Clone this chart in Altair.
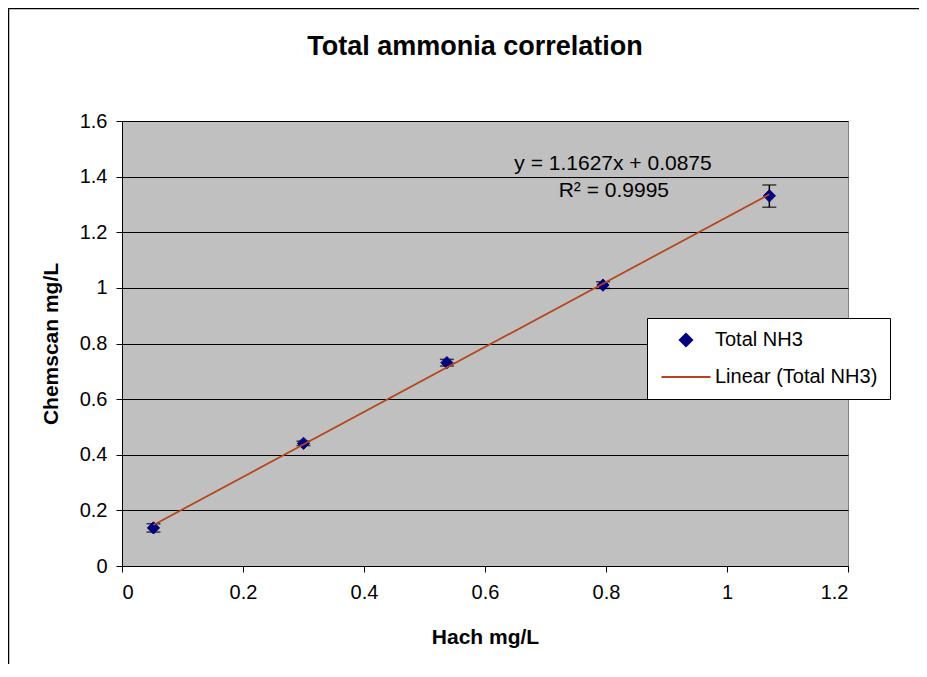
import altair as alt
import pandas as pd

# Data
hach = [0.052, 0.300, 0.537, 0.795, 1.070]
chemscan = [0.137, 0.441, 0.731, 1.010, 1.331]
err_low = [0.122, 0.433, 0.719, 0.998, 1.290]
err_high = [0.152, 0.449, 0.743, 1.022, 1.370]

series_names = ["Total NH3", "Linear (Total NH3)"]
equation_text = ["y = 1.1627x + 0.0875", "R\u00b2 = 0.9995"]
# annotation anchors in data units
eq_x = [0.8116, 0.8130]
eq_y = [1.4238, 1.3267]

x_ticks = [0, 0.2, 0.4, 0.6, 0.8, 1.0, 1.2]
y_ticks = [0, 0.2, 0.4, 0.6, 0.8, 1.0, 1.2, 1.4, 1.6]

FONT = "Liberation Sans"
NAVY = "#000080"
TREND = "#B5461B"

df = pd.DataFrame({
    "hach": hach,
    "chem": chemscan,
    "lo": err_low,
    "hi": err_high,
    "series": [series_names[0]] * len(hach),
})
ann = pd.DataFrame({"x": eq_x, "y": eq_y, "t": equation_text})

xs = alt.Scale(domain=[0, 1.2], nice=False)
ys = alt.Scale(domain=[0, 1.6], nice=False)

x_enc = alt.X(
    "hach:Q", scale=xs,
    axis=alt.Axis(values=x_ticks, format="~g", grid=False, title="Hach mg/L",
                  titleFontSize=21, titleFont=FONT, titleFontWeight="bold",
                  titlePadding=24, labelPadding=10, tickSize=6),
)
y_enc = alt.Y(
    "chem:Q", scale=ys,
    axis=alt.Axis(values=y_ticks, format="~g", grid=True, title="Chemscan mg/L",
                  titleFontSize=21, titleFont=FONT, titleFontWeight="bold",
                  titlePadding=18, labelPadding=9, tickSize=6),
)

base = alt.Chart(df)
one = pd.DataFrame({"a": [0]})

# outer chart frame: only its left and top edges fall inside the picture
frame_left = alt.Chart(one).mark_rule(color="black", strokeWidth=1.5, clip=False).encode(
    x=alt.value(-113.5), y=alt.value(-113.2), y2=alt.value(2000)
)
frame_top = alt.Chart(one).mark_rule(color="black", strokeWidth=1.5, clip=False).encode(
    x=alt.value(-114.2), x2=alt.value(2000), y=alt.value(-112.5)
)

rules = base.mark_rule(color="black", strokeWidth=1.5).encode(
    x=x_enc, y=alt.Y("lo:Q", scale=ys), y2="hi:Q"
)
caps_lo = base.mark_tick(orient="horizontal", color="black", size=14, thickness=1.5).encode(
    x=alt.X("hach:Q", scale=xs), y=alt.Y("lo:Q", scale=ys)
)
caps_hi = base.mark_tick(orient="horizontal", color="black", size=14, thickness=1.5).encode(
    x=alt.X("hach:Q", scale=xs), y=alt.Y("hi:Q", scale=ys)
)

leg = alt.Legend(
    title=None, orient="none", legendX=525, legendY=197,
    fillColor="white", strokeColor="black", padding=12,
    labelFont=FONT, labelFontSize=20, labelColor="black", labelLimit=400,
    symbolSize=150, symbolStrokeWidth=2, symbolOffset=17, labelOffset=19,
    rowPadding=16,
)

points = base.mark_point(filled=True, size=150, strokeWidth=1, opacity=1).encode(
    x=x_enc, y=y_enc,
    shape=alt.Shape("series:N", scale=alt.Scale(domain=series_names, range=["diamond", "M-4,0H4"]), legend=leg),
    fill=alt.Fill("series:N", scale=alt.Scale(domain=series_names, range=[NAVY, "transparent"]), legend=leg),
    stroke=alt.Stroke("series:N", scale=alt.Scale(domain=series_names, range=[NAVY, TREND]), legend=leg),
)

trend = base.transform_regression("hach", "chem").mark_line(
    color=TREND, strokeWidth=1.75
).encode(x=alt.X("hach:Q", scale=xs), y=alt.Y("chem:Q", scale=ys))

eq = alt.Chart(ann).mark_text(
    font=FONT, fontSize=21, color="black", align="center", baseline="alphabetic"
).encode(x=alt.X("x:Q", scale=xs), y=alt.Y("y:Q", scale=ys), text="t:N")

chart = alt.layer(frame_left, frame_top, rules, caps_lo, caps_hi, points, trend, eq).properties(
    width=726, height=445,
    autosize=alt.AutoSizeParams(type="none"),
    padding={"left": 114, "top": 113, "right": 71, "bottom": 98},
    title=alt.TitleParams("Total ammonia correlation", font=FONT, fontSize=27,
                          fontWeight="bold", color="black", anchor="middle",
                          dx=-10, offset=-54),
).configure(background="white").configure_view(
    fill="#C0C0C0", stroke="#808080", strokeWidth=1
).configure_axis(
    labelFont=FONT, labelFontSize=20, labelColor="black",
    domainColor="black", domainWidth=1, tickColor="black", tickWidth=1,
    gridColor="black", gridWidth=1, gridOpacity=1, titleColor="black",
)

chart.save("out.html", embed_options={"renderer": "svg", "actions": False})
